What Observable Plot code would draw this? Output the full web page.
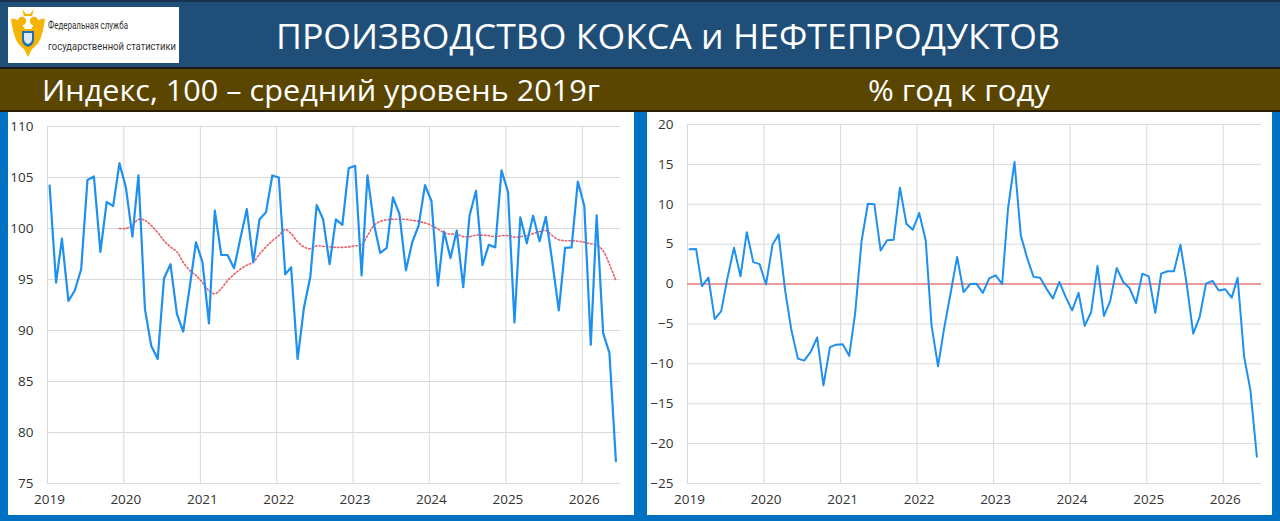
<!DOCTYPE html>
<html><head><meta charset="utf-8">
<script src="https://cdn.jsdelivr.net/npm/d3@7"></script>
<script src="https://cdn.jsdelivr.net/npm/@observablehq/plot@0.6"></script>
<style>
html,body{margin:0;padding:0}
body{width:1280px;height:521px;overflow:hidden;background:#0070C0;position:relative;font-family:"Open Sans",sans-serif}
#head{position:absolute;left:0;top:0}
.panel{position:absolute;top:112px;height:403px;background:#fff}
#left{left:8px;width:626px}
#right{left:647px;width:625px}
.panel svg{display:block}
</style>
</head><body>
<svg id="head" width="1280" height="112" xmlns="http://www.w3.org/2000/svg">
  <rect x="0" y="0" width="1280" height="68" fill="#1F4E79"/>
  <rect x="0" y="0" width="1280" height="2" fill="#18324d"/>
  <rect x="0" y="67" width="1280" height="2" fill="#1a1a1a"/>
  <rect x="0" y="69" width="1280" height="42" fill="#5A4600"/>
  <rect x="0" y="110" width="1280" height="2" fill="#2a2000"/>
  <rect x="8" y="7" width="171" height="56" fill="#ffffff"/>
  <g transform="translate(28,35)">
    <path d="M-3,-6 C-8,-14 -14,-18 -17,-16 C-16,-10 -15,-4 -13,2 C-11,8 -7,12 -4,14 L0,22 L4,14 C7,12 11,8 13,2 C15,-4 16,-10 17,-16 C14,-18 8,-14 3,-6Z" fill="#F4B400"/>
    <circle cx="-6" cy="-14" r="4.2" fill="#F4B400"/>
    <circle cx="6" cy="-14" r="4.2" fill="#F4B400"/>
    <path d="M-6,-26 L-2,-21 L2,-21 L6,-26 L4,-19 L-4,-19Z" fill="#F4B400"/>
    <path d="M-6,-4 L6,-4 L6,5 C6,10 0,12 0,12 C0,12 -6,10 -6,5Z" fill="#1f6fb5"/>
    <path d="M-4,-2 L4,-2 L4,4 C4,8 0,9 0,9 C0,9 -4,8 -4,4Z" fill="#dbe9f7"/>
  </g>
  <text x="48" y="29" font-family="Roboto, sans-serif" font-size="11" fill="#333" textLength="80" lengthAdjust="spacingAndGlyphs">Федеральная служба</text>
  <text x="48" y="50" font-family="Roboto, sans-serif" font-size="11" fill="#333" textLength="128" lengthAdjust="spacingAndGlyphs">государственной статистики</text>
  <text x="276" y="49" font-family="Open Sans, sans-serif" font-size="35" fill="#ffffff" textLength="784" lengthAdjust="spacingAndGlyphs">ПРОИЗВОДСТВО КОКСА и НЕФТЕПРОДУКТОВ</text>
  <text x="42" y="101" font-family="Open Sans, sans-serif" font-size="29" fill="#ffffff" textLength="558" lengthAdjust="spacingAndGlyphs">Индекс, 100 – средний уровень 2019г</text>
  <text x="868" y="101" font-family="Open Sans, sans-serif" font-size="29" fill="#ffffff" textLength="182" lengthAdjust="spacingAndGlyphs">% год к году</text>
</svg>
<div id="left" class="panel"></div>
<div id="right" class="panel"></div>
<script>
// ---- data ----
const startYear = 2019;
const yearTicks = [2019, 2020, 2021, 2022, 2023, 2024, 2025, 2026];
const indexTicks = [75, 80, 85, 90, 95, 100, 105, 110];
const yoyTicks = [-25, -20, -15, -10, -5, 0, 5, 10, 15, 20];

// Index, 100 = average 2019 level (monthly, Jan 2019 – Jun 2026)
const indexValues = [
  104.2, 94.7, 99.0, 92.9, 93.9, 96.0, 104.75, 105.1, 97.7, 102.6, 102.2, 106.4,
  104.0, 99.2, 105.2, 92.1, 88.5, 87.2, 95.1, 96.5, 91.6, 89.9, 94.25, 98.65,
  96.7, 90.7, 101.75, 97.4, 97.4, 96.1, 99.0, 101.9, 96.7, 100.9, 101.6, 105.2,
  105.0, 95.5, 96.2, 87.2, 92.2, 95.3, 102.3, 100.9, 96.5, 100.9, 100.35, 105.9,
  106.15, 95.4, 105.2, 100.45, 97.6, 98.1, 103.05, 101.4, 95.9, 98.65, 100.3, 104.25,
  102.7, 94.4, 99.7, 97.1, 99.8, 94.25, 101.25, 103.7, 96.4, 98.4, 98.15, 105.7,
  103.6, 90.8, 101.1, 98.55, 101.25, 98.75, 101.15, 96.7, 91.96, 98.1, 98.15, 104.6,
  102.2, 88.6, 101.3, 89.75, 87.8, 77.2
];

// 12-month moving average (starts Dec 2019)
const maValues = [
  null, null, null, null, null, null, null, null, null, null, null, 100.0,
  100.0, 100.3, 100.9, 100.8, 100.3, 99.6, 98.8, 98.2, 97.7, 96.7, 95.9, 95.4,
  94.7, 93.9, 93.6, 94.1, 94.9, 95.5, 96.0, 96.4, 96.7, 97.5, 98.2, 98.8,
  99.3, 99.9, 99.5, 98.7, 98.2, 98.0, 98.3, 98.25, 98.2, 98.15, 98.15, 98.2,
  98.3, 98.4, 99.3, 100.3, 100.7, 100.85, 100.9, 100.9, 100.9, 100.8, 100.7, 100.55,
  100.3, 99.95, 99.6, 99.45, 99.45, 99.2, 99.2, 99.35, 99.35, 99.3, 99.2, 99.3,
  99.3, 99.15, 99.2, 99.3, 99.5, 99.7, 99.8, 99.3, 98.9, 98.8, 98.8, 98.75,
  98.65, 98.5, 98.4, 97.8, 96.5, 94.9
];

// % year on year
const yoyValues = [
  4.35, 4.4, -0.25, 0.8, -4.4, -3.4, 0.8, 4.55, 0.97, 6.5, 2.75, 2.5,
  -0.05, 4.97, 6.2, -0.8, -5.8, -9.35, -9.6, -8.5, -6.7, -12.7, -7.9, -7.6,
  -7.55, -9.0, -3.7, 5.4, 10.07, 10.0, 4.2, 5.5, 5.55, 12.07, 7.56, 6.8,
  8.9, 5.5, -5.2, -10.3, -5.4, -1.0, 3.4, -1.0, 0.0, 0.05, -1.1, 0.7,
  1.1, 0.0, 9.44, 15.3, 6.1, 3.2, 0.9, 0.8, -0.6, -1.8, 0.26, -1.6,
  -3.3, -1.1, -5.25, -3.5, 2.26, -4.0, -2.1, 2.0, 0.26, -0.5, -2.4, 1.3,
  0.97, -3.6, 1.3, 1.6, 1.6, 4.93, 0.0, -6.2, -4.1, 0.05, 0.4, -0.8,
  -0.65, -1.7, 0.8, -9.1, -13.3, -21.65
];

// ---- build tables ----
const monthDate = i => new Date(Date.UTC(startYear, i, 11));
const idxData = indexValues.map((v, i) => ({date: monthDate(i), value: v}));
const maData = maValues.map((v, i) => ({date: monthDate(i), value: v})).filter(d => d.value != null);
const yoyData = yoyValues.map((v, i) => ({date: monthDate(i), value: v}));
const yearDates = yearTicks.map(y => new Date(Date.UTC(y, 0, 1)));
const xDomain = [new Date(Date.UTC(2019, 0, 1)), new Date(Date.UTC(2026, 6, 3))];

const BLUE = "#1E90F0";
const GRID = "#D9D9D9";
const TXT = "#333333";
const baseStyle = {fontFamily: "Open Sans, sans-serif", fontSize: "13.5px", color: TXT, background: "transparent", overflow: "visible"};

const leftChart = Plot.plot({
  width: 626, height: 403,
  marginLeft: 39, marginRight: 14, marginTop: 14, marginBottom: 32,
  style: baseStyle,
  x: {type: "utc", domain: xDomain, label: null},
  y: {domain: [75, 110], label: null},
  marks: [
    Plot.gridY(indexTicks, {stroke: GRID, strokeOpacity: 1, strokeWidth: 1}),
    Plot.gridX(yearDates, {stroke: GRID, strokeOpacity: 1, strokeWidth: 1}),
    Plot.axisY(indexTicks, {tickSize: 0, tickPadding: 14, fontSize: 13.5, fill: TXT, label: null}),
    Plot.axisX(yearDates, {tickFormat: d => String(d.getUTCFullYear()), tickSize: 0, tickPadding: 11, fontSize: 13.5, dx: 2, fill: TXT}),
    Plot.line(maData, {x: "date", y: "value", stroke: "#EC5F66", strokeWidth: 1.6, strokeDasharray: "1.5,2.2", curve: "catmull-rom"}),
    Plot.line(idxData, {x: "date", y: "value", stroke: BLUE, strokeWidth: 2.2, strokeLinejoin: "round"})
  ]
});
document.getElementById("left").appendChild(leftChart);

const rightChart = Plot.plot({
  width: 625, height: 403,
  marginLeft: 40, marginRight: 11, marginTop: 12, marginBottom: 32,
  style: baseStyle,
  x: {type: "utc", domain: xDomain, label: null},
  y: {domain: [-25, 20], label: null},
  marks: [
    Plot.gridY(yoyTicks, {stroke: GRID, strokeOpacity: 1, strokeWidth: 1}),
    Plot.gridX(yearDates, {stroke: GRID, strokeOpacity: 1, strokeWidth: 1}),
    Plot.axisY(yoyTicks, {tickSize: 0, tickPadding: 14, fontSize: 13.5, fill: TXT, label: null}),
    Plot.axisX(yearDates, {tickFormat: d => String(d.getUTCFullYear()), tickSize: 0, tickPadding: 11, fontSize: 13.5, dx: 2, fill: TXT}),
    Plot.ruleY([0], {stroke: "#F07C7C", strokeWidth: 1.4}),
    Plot.line(yoyData, {x: "date", y: "value", stroke: BLUE, strokeWidth: 2, strokeLinejoin: "round"})
  ]
});
document.getElementById("right").appendChild(rightChart);
</script>
</body></html>
